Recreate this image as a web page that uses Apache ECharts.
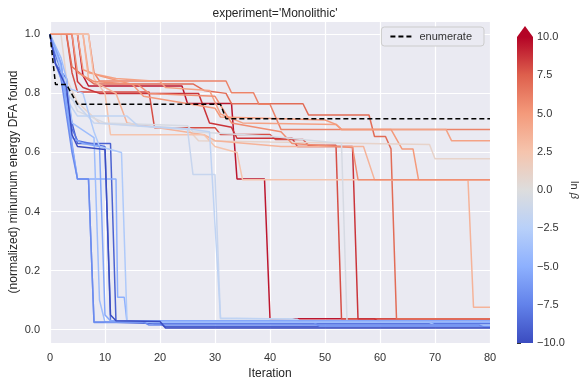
<!DOCTYPE html>
<html>
<head>
<meta charset="utf-8">
<script src="https://cdn.jsdelivr.net/npm/echarts@6/dist/echarts.min.js"></script>
<style>
  html, body { margin: 0; padding: 0; background: #fff; }
  #chart { width: 580px; height: 379px; }
</style>
</head>
<body>
<div id="chart"></div>
<script>
// iteration / normalized energy pairs
const enumerate = [[0, 1], [1, 0.83], [3, 0.83], [5, 0.763], [31, 0.763], [32, 0.714], [80, 0.714]];

// ln(beta) of each run, same order as runs
const lnBeta = [9.5, 8, 8.7, 7, 6, 4.5, 5, 1, 3.5, 2.5, 5.5,
                -0.5, -1.5, -2,
                -9, -8, -6.5, -5, -4, -3, -7, -5.5, -10];

const runs = [
  [[0,1],[5,1],[6,0.86],[7,0.825],[24,0.825],[25,0.766],[33,0.766],[34,0.51],[39,0.51],[40,0.037],[80,0.037]],
  [[0,1],[3,1],[4,0.87],[5,0.805],[18,0.805],[19,0.684],[30,0.684],[31,0.661],[40,0.661],[41,0.644],[46,0.644],[47,0.624],[52,0.624],[53,0.037],[80,0.037]],
  [[0,1],[4,1],[5,0.84],[6,0.82],[9,0.8],[27,0.8],[29,0.7],[33,0.685],[34,0.648],[44,0.648],[45,0.62],[55,0.62],[56,0.037],[59,0.037],[60,0.024],[80,0.024]],
  [[0,1],[3,1],[4,0.89],[6,0.86],[8,0.832],[26,0.832],[28,0.81],[32,0.8],[33,0.765],[46,0.765],[47,0.727],[58,0.727],[59,0.654],[61,0.654],[62,0.612],[63,0.037],[80,0.037]],
  [[0,1],[7,1],[8,0.87],[9,0.842],[32,0.842],[33,0.802],[37,0.802],[38,0.763],[40,0.763],[42,0.678],[80,0.678]],
  [[0,1],[6,1],[7,0.87],[12,0.85],[20,0.84],[21,0.82],[29,0.81],[31,0.73],[35,0.7],[52,0.695],[53,0.678],[72,0.678],[73,0.64],[80,0.64]],
  [[0,1],[5,1],[6,0.88],[9,0.86],[15,0.83],[17,0.79],[30,0.75],[31,0.72],[50,0.71],[52,0.695],[53,0.678],[62,0.678],[64,0.612],[66,0.612],[67,0.508],[80,0.508]],
  [[0,1],[2,1],[3,0.85],[5,0.77],[9,0.7],[25,0.68],[27,0.64],[40,0.635],[69,0.627],[70,0.579],[80,0.579]],
  [[0,1],[6,1],[7,0.85],[12,0.8],[14,0.7],[28,0.66],[30,0.64],[42,0.62],[57,0.62],[59,0.508],[76,0.508],[77,0.076],[80,0.076]],
  [[0,1],[7,1],[8,0.85],[10,0.8],[11,0.66],[28,0.66],[30,0.62],[34,0.6],[35,0.508],[80,0.508]],
  [[0,1],[4,1],[5,0.87],[8,0.84],[16,0.83],[18,0.8],[30,0.79],[33,0.7],[42,0.67],[44,0.63],[55,0.617],[56,0.508],[80,0.508]],
  [[0,1],[1,0.95],[2,0.88],[5,0.74],[10,0.7],[25,0.69],[26,0.67],[40,0.655],[53,0.63],[54,0.03],[80,0.03]],
  [[0,1],[1,0.9],[3,0.8],[8,0.7],[25,0.678],[26,0.525],[30,0.525],[31,0.037],[44,0.037],[46,0.025],[80,0.025]],
  [[0,1],[1,0.92],[3,0.78],[5,0.723],[14,0.723],[16,0.69],[25,0.68],[29,0.67],[31,0.04],[45,0.035],[46,0.02],[80,0.02]],
  [[0,1],[1,0.93],[2,0.88],[4,0.7],[5,0.63],[11,0.63],[12,0.025],[20,0.02],[21,0.01],[80,0.01]],
  [[0,1],[1,0.9],[3,0.85],[4,0.68],[5,0.64],[10,0.62],[11,0.03],[18,0.027],[19,0.02],[80,0.02]],
  [[0,1],[2,0.9],[4,0.63],[5,0.51],[7,0.51],[8,0.024],[48,0.024],[49,0.012],[80,0.012]],
  [[0,1],[2,0.88],[4,0.62],[5,0.51],[12,0.51],[12.3,0.11],[13.5,0.11],[14,0.025],[80,0.025]],
  [[0,1],[2,0.92],[3,0.85],[4,0.7],[8,0.65],[9,0.1],[10,0.025],[69,0.025],[70,0.015],[80,0.015]],
  [[0,1],[1,0.95],[3,0.82],[6,0.8],[8,0.67],[9,0.62],[13,0.6],[14,0.03],[80,0.03]],
  [[0,1],[1,0.9],[2,0.85],[4,0.6],[5,0.51],[7,0.51],[8,0.026],[17,0.026],[18,0.016],[78,0.016],[79,0.008],[80,0.008]],
  [[0,1],[2,0.9],[4,0.65],[6,0.63],[9,0.62],[10,0.05],[11,0.03],[80,0.03]],
  [[0,1],[1,0.9],[3,0.82],[4,0.66],[5,0.62],[10,0.61],[11,0.05],[12,0.03],[20,0.028],[21,0.006],[80,0.006]]
];

const cbTicks = [-10, -7.5, -5, -2.5, 0, 2.5, 5, 7.5, 10];

// coolwarm
const cmap = [[59,76,192],[98,130,234],[141,176,254],[184,208,249],[221,221,221],
              [245,196,173],[244,154,123],[222,96,77],[180,4,38]];
function coolwarm(v) {
    let t = Math.max(0, Math.min(1, (v + 10) / 20)) * (cmap.length - 1);
    let i = Math.min(cmap.length - 2, Math.floor(t)), f = t - i;
    let c = cmap[i].map((a, k) => Math.round(a + (cmap[i + 1][k] - a) * f));
    return 'rgb(' + c.join(',') + ')';
}

const font = '"Liberation Sans", Arial, sans-serif';
const txt = '#333';

let series = runs.map(function (d, i) {
    return {
        type: 'line', data: d, symbol: 'none', silent: true,
        lineStyle: {color: coolwarm(lnBeta[i]), width: 1.5},
        z: 2
    };
});
series.push({
    name: 'enumerate', type: 'line', data: enumerate, symbol: 'none',
    lineStyle: {color: '#000', width: 1.5, type: [5, 3]},
    itemStyle: {color: '#000'},
    z: 3
});
// colorbar
series.push({
    type: 'custom', xAxisIndex: 1, yAxisIndex: 1, silent: true,
    data: [[0, cbTicks[0], cbTicks[cbTicks.length - 1]]],
    encode: {x: 0, y: [1, 2]},
    renderItem: function (params, api) {
        let p0 = api.coord([0, api.value(1)]);
        let p1 = api.coord([1, api.value(2)]);
        let stops = cmap.map((c, k) => ({offset: 1 - k / (cmap.length - 1), color: 'rgb(' + c.join(',') + ')'}));
        return {
            type: 'group',
            children: [{
                type: 'rect',
                shape: {x: p0[0], y: p1[1], width: p1[0] - p0[0], height: p0[1] - p1[1]},
                style: {fill: new echarts.graphic.LinearGradient(0, 0, 0, 1, stops)}
            }, {
                type: 'polygon',
                shape: {points: [[p0[0], p1[1]], [p1[0], p1[1]], [(p0[0] + p1[0]) / 2, p1[1] - 11]]},
                style: {fill: 'rgb(180,4,38)'}
            }]
        };
    }
});

let chart = echarts.init(document.getElementById('chart'));
chart.setOption({
    animation: false,
    textStyle: {fontFamily: font},
    title: {
        text: "experiment='Monolithic'", left: 270, top: 3, textAlign: 'center',
        textStyle: {fontSize: 12, fontWeight: 'normal', color: '#262626', fontFamily: font}
    },
    legend: {
        data: ['enumerate'], right: 96, top: 27,
        itemWidth: 24, itemHeight: 10, itemGap: 6,
        itemStyle: {opacity: 0},
        backgroundColor: '#EAEAF2', borderColor: '#ccc', borderWidth: 1, borderRadius: 3,
        padding: [4, 12, 4, 8],
        textStyle: {fontSize: 11, color: txt, fontFamily: font}
    },
    grid: [
        {left: 50, right: 90, top: 21, bottom: 36, show: true, backgroundColor: '#EAEAF2', borderWidth: 0,
         outerBoundsMode: 'none'},
        {left: 517, width: 16, top: 37, bottom: 36, outerBoundsMode: 'none'}
    ],
    xAxis: [{
        type: 'value', min: 0, max: 80, interval: 10,
        name: 'Iteration', nameLocation: 'middle', nameGap: 25,
        nameTextStyle: {fontSize: 12, color: '#262626'},
        axisLine: {show: false}, axisTick: {show: false},
        axisLabel: {fontSize: 11, color: txt, margin: 9},
        splitLine: {lineStyle: {color: '#fff', width: 1.2}}
    }, {
        gridIndex: 1, type: 'value', min: 0, max: 1, show: false
    }],
    yAxis: [{
        type: 'value', min: -0.045, max: 1.045,
        name: '(normalized) minumum energy DFA found', nameLocation: 'middle', nameGap: 30,
        nameMoveOverlap: false,
        nameTextStyle: {fontSize: 12, color: '#262626'},
        axisLine: {show: false}, axisTick: {show: false},
        axisLabel: {
            fontSize: 11, color: txt, margin: 10, showMinLabel: false, showMaxLabel: false,
            formatter: v => Math.abs(v * 5 - Math.round(v * 5)) < 1e-6 ? v.toFixed(1) : ''
        },
        splitLine: {lineStyle: {color: '#fff', width: 1.2}}
    }, {
        gridIndex: 1, type: 'value', min: -10, max: 10, interval: 2.5, position: 'right',
        name: '{a|ln} {b|β}', nameLocation: 'middle', nameGap: 36, nameRotate: -90,
        nameMoveOverlap: false,
        nameTextStyle: {
            fontSize: 11, color: txt,
            rich: {a: {fontSize: 11, color: txt}, b: {fontSize: 11, color: txt, fontStyle: 'italic'}}
        },
        axisLine: {show: false},
        axisTick: {show: true, length: 4, lineStyle: {color: txt, width: 1}},
        axisLabel: {
            fontSize: 11, color: txt, margin: 4,
            formatter: v => (v < 0 ? '\u2212' : '') + Math.abs(v).toFixed(1)
        },
        splitLine: {show: false}
    }],
    series: series
});
</script>
</body>
</html>
